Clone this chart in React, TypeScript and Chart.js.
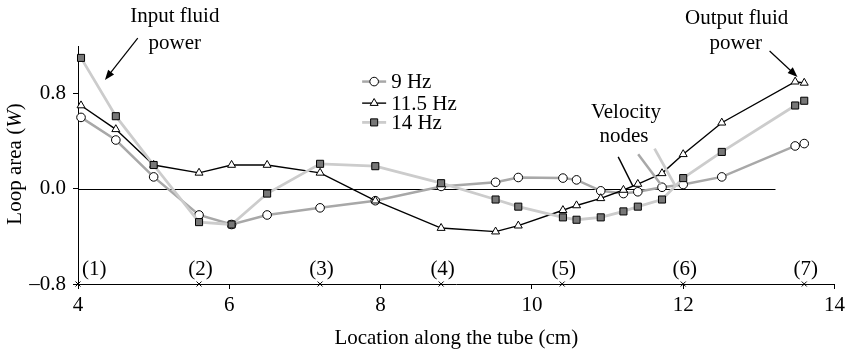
import React, { useEffect, useRef } from "react";
import { Chart, registerables } from "chart.js";

Chart.register(...registerables);

// ---- data ----
const locations = [4.04, 4.5, 5.0, 5.6, 6.03, 6.5, 7.2, 7.93, 8.8, 9.52, 9.82, 10.41, 10.59, 10.91, 11.21, 11.4, 11.72, 12.0, 12.51, 13.48, 13.6];
const loop9Hz = [0.6, 0.41, 0.1, -0.22, -0.3, -0.22, -0.16, -0.1, 0.02, 0.055, 0.095, 0.09, 0.075, -0.017, -0.04, -0.025, 0.013, 0.036, 0.1, 0.36, 0.38];
const loop11_5Hz = [0.7, 0.5, 0.2, 0.134, 0.2, 0.2, 0.134, -0.1, -0.33, -0.36, -0.31, -0.18, -0.14, -0.08, -0.01, 0.04, 0.13, 0.29, 0.555, 0.9, 0.89];
const loop14Hz = [1.1, 0.61, 0.2, -0.28, -0.3, -0.04, 0.21, 0.19, 0.047, -0.09, -0.15, -0.24, -0.26, -0.24, -0.19, -0.15, -0.09, 0.09, 0.31, 0.7, 0.74];
const seriesLabels = ["9 Hz", "11.5 Hz", "14 Hz"];
const xTickValues = [4, 6, 8, 10, 12, 14];
const yTickValues = [-0.8, 0, 0.8];
const stationPositions = [4, 5.6, 7.2, 8.8, 10.4, 12, 13.6];
const stationLabels = ["(1)", "(2)", "(3)", "(4)", "(5)", "(6)", "(7)"];
const xAxisTitle = "Location along the tube (cm)";
const yAxisTitleParts = ["Loop area (", "W", ")"];

const FONT = '"Liberation Serif", "Times New Roman", serif';
const FS = 21;

const seriesStyles = [
  { line: "#a8a8a8", width: 2.5, point: "circle", fill: "#ffffff", radius: 4.3 },
  { line: "#000000", width: 1.4, point: "triangle", fill: "#ffffff", radius: 4.6 },
  { line: "#cccccc", width: 2.8, point: "rect", fill: "#777777", radius: 5 },
];

function arrow(ctx: CanvasRenderingContext2D, x1: number, y1: number, x2: number, y2: number) {
  const ang = Math.atan2(y2 - y1, x2 - x1);
  const L = 10, W = 3.8;
  ctx.beginPath();
  ctx.moveTo(x1, y1);
  ctx.lineTo(x2 - (L - 2) * Math.cos(ang), y2 - (L - 2) * Math.sin(ang));
  ctx.stroke();
  ctx.beginPath();
  ctx.moveTo(x2, y2);
  ctx.lineTo(x2 - L * Math.cos(ang) + W * Math.sin(ang), y2 - L * Math.sin(ang) - W * Math.cos(ang));
  ctx.lineTo(x2 - L * Math.cos(ang) - W * Math.sin(ang), y2 - L * Math.sin(ang) + W * Math.cos(ang));
  ctx.closePath();
  ctx.fill();
}

function drawMarker(ctx: CanvasRenderingContext2D, kind: string, x: number, y: number, r: number, fill: string) {
  ctx.save();
  ctx.fillStyle = fill;
  ctx.strokeStyle = "#000";
  ctx.lineWidth = 1;
  ctx.beginPath();
  if (kind === "circle") {
    ctx.arc(x, y, r, 0, Math.PI * 2);
  } else if (kind === "triangle") {
    for (let i = 0; i < 3; i++) {
      const a = (i * 2 * Math.PI) / 3;
      const px = x + Math.sin(a) * r;
      const py = y - Math.cos(a) * r;
      if (i === 0) ctx.moveTo(px, py);
      else ctx.lineTo(px, py);
    }
    ctx.closePath();
  } else {
    const s = Math.SQRT1_2 * r;
    ctx.rect(x - s, y - s, 2 * s, 2 * s);
  }
  ctx.fill();
  ctx.stroke();
  ctx.restore();
}

const decorPlugin = {
  id: "decor",
  beforeDatasetsDraw(chart: any) {
    const ctx: CanvasRenderingContext2D = chart.ctx;
    const X = (v: number) => chart.scales.x.getPixelForValue(v);
    const Y = (v: number) => chart.scales.y.getPixelForValue(v);
    ctx.save();
    ctx.strokeStyle = "#000";
    ctx.lineWidth = 1;
    const y0 = Math.round(Y(0)) + 0.5;
    ctx.beginPath();
    ctx.moveTo(X(4), y0);
    ctx.lineTo(X(13.22), y0);
    ctx.stroke();
    ctx.restore();
  },
  afterDraw(chart: any) {
    const ctx: CanvasRenderingContext2D = chart.ctx;
    const X = (v: number) => chart.scales.x.getPixelForValue(v);
    const Y = (v: number) => chart.scales.y.getPixelForValue(v);
    const area = chart.chartArea;
    ctx.save();
    ctx.fillStyle = "#000";
    ctx.strokeStyle = "#000";
    ctx.font = `${FS}px ${FONT}`;

    // Velocity node pointer lines
    const pointers = [
      { c: "#000000", w: 1.4, a: [11.141, 0.268], b: [11.335, 0.022] },
      { c: "#a8a8a8", w: 2.5, a: [11.405, 0.29], b: [11.705, 0.036] },
      { c: "#cccccc", w: 2.8, a: [11.621, 0.338], b: [11.898, 0.022] },
    ];
    pointers.forEach((p) => {
      ctx.strokeStyle = p.c;
      ctx.lineWidth = p.w;
      ctx.beginPath();
      ctx.moveTo(X(p.a[0]), Y(p.a[1]));
      ctx.lineTo(X(p.b[0]), Y(p.b[1]));
      ctx.stroke();
    });

    ctx.strokeStyle = "#000";
    ctx.lineWidth = 1.2;
    // Input fluid power
    ctx.textAlign = "center";
    ctx.textBaseline = "middle";
    ctx.fillText("Input fluid", X(5.28), Y(1.451));
    ctx.fillText("power", X(5.28), Y(1.225));
    arrow(ctx, X(4.79), Y(1.267), X(4.356), Y(0.915));
    // Output fluid power
    ctx.fillText("Output fluid", X(12.707), Y(1.434));
    ctx.fillText("power", X(12.694), Y(1.225));
    arrow(ctx, X(13.142), Y(1.158), X(13.511), Y(0.94));
    // Velocity nodes
    ctx.fillText("Velocity", X(11.243), Y(0.639));
    ctx.fillText("nodes", X(11.216), Y(0.438));

    // Legend
    const legendRows = [0.901, 0.72, 0.558];
    const lx = X(7.756);
    seriesLabels.forEach((lab, i) => {
      const st = seriesStyles[i];
      const y = Y(legendRows[i]);
      ctx.strokeStyle = st.line;
      ctx.lineWidth = st.width;
      ctx.beginPath();
      ctx.moveTo(lx, y);
      ctx.lineTo(lx + 24, y);
      ctx.stroke();
      drawMarker(ctx, st.point, lx + 12, y, st.radius, st.fill);
      ctx.fillStyle = "#000";
      ctx.textAlign = "left";
      ctx.textBaseline = "middle";
      ctx.fillText(lab, lx + 29, y + 1);
    });

    // Station markers on x axis
    const ya = Y(-0.8);
    ctx.strokeStyle = "#000";
    ctx.lineWidth = 1;
    stationPositions.forEach((s, i) => {
      const x = X(s);
      ctx.beginPath();
      ctx.moveTo(x - 2.5, ya - 2.5);
      ctx.lineTo(x + 2.5, ya + 2.5);
      ctx.moveTo(x + 2.5, ya - 2.5);
      ctx.lineTo(x - 2.5, ya + 2.5);
      ctx.stroke();
      ctx.textBaseline = "alphabetic";
      if (i === 0) {
        ctx.textAlign = "left";
        ctx.fillText(stationLabels[i], x + 4, ya - 9);
      } else {
        ctx.textAlign = "center";
        ctx.fillText(stationLabels[i], x + 1.5, ya - 9);
      }
    });

    // X axis title
    ctx.textAlign = "center";
    ctx.textBaseline = "alphabetic";
    ctx.fillText(xAxisTitle, (area.left + area.right) / 2, area.bottom + 60);

    // Y axis title with italic W
    ctx.translate(20.5, (area.top + area.bottom) / 2 - 1);
    ctx.rotate(-Math.PI / 2);
    const fNormal = `${FS}px ${FONT}`;
    const fItalic = `italic ${FS}px ${FONT}`;
    ctx.font = fNormal;
    const w0 = ctx.measureText(yAxisTitleParts[0]).width;
    const w2 = ctx.measureText(yAxisTitleParts[2]).width;
    ctx.font = fItalic;
    const w1 = ctx.measureText(yAxisTitleParts[1]).width;
    let cx = -(w0 + w1 + w2) / 2;
    ctx.textAlign = "left";
    ctx.font = fNormal;
    ctx.fillText(yAxisTitleParts[0], cx, 0);
    cx += w0;
    ctx.font = fItalic;
    ctx.fillText(yAxisTitleParts[1], cx, 0);
    cx += w1;
    ctx.font = fNormal;
    ctx.fillText(yAxisTitleParts[2], cx, 0);
    ctx.restore();
  },
};

export default function App() {
  const ref = useRef<HTMLCanvasElement | null>(null);
  useEffect(() => {
    if (!ref.current) return;
    const seriesValues = [loop9Hz, loop11_5Hz, loop14Hz];
    const datasets = seriesValues.map((vals, i) => {
      const st = seriesStyles[i];
      return {
        label: seriesLabels[i],
        data: locations.map((x, j) => ({ x, y: vals[j] })),
        borderColor: st.line,
        borderWidth: st.width,
        pointStyle: st.point,
        pointRadius: st.radius,
        pointBackgroundColor: st.fill,
        pointBorderColor: "#000",
        pointBorderWidth: 1,
        tension: 0,
        clip: false as any,
        order: 3 - i,
      };
    });
    const chart = new Chart(ref.current, {
      type: "line",
      data: { datasets: datasets as any },
      options: {
        animation: false,
        responsive: false,
        devicePixelRatio: 1,
        layout: { padding: { top: 46, right: 13, left: 0, bottom: 0 } },
        plugins: { legend: { display: false }, tooltip: { enabled: false } },
        scales: {
          x: {
            type: "linear",
            min: 4,
            max: 14,
            afterBuildTicks: (s: any) => {
              s.ticks = xTickValues.map((v) => ({ value: v }));
            },
            afterFit: (s: any) => {
              s.height = 67;
            },
            ticks: {
              color: "#000",
              font: { family: FONT, size: FS },
              padding: 4,
              maxRotation: 0,
              callback: (v: any) => String(v),
            },
            grid: { display: true, drawOnChartArea: false, drawTicks: true, tickLength: 5, color: "#000", tickColor: "#000" },
            border: { display: true, color: "#000", width: 1 },
          },
          y: {
            type: "linear",
            min: -0.8,
            max: 1.2,
            afterBuildTicks: (s: any) => {
              s.ticks = yTickValues.map((v) => ({ value: v }));
            },
            afterFit: (s: any) => {
              s.width = 78;
            },
            ticks: {
              color: "#000",
              font: { family: FONT, size: FS },
              padding: 7,
              callback: (v: any) => (Number(v) < 0 ? "\u2013" + Math.abs(Number(v)).toFixed(1) : Number(v).toFixed(1)),
            },
            grid: { display: true, drawOnChartArea: false, drawTicks: true, tickLength: 5, color: "#000", tickColor: "#000" },
            border: { display: true, color: "#000", width: 1 },
          },
        },
      },
      plugins: [decorPlugin],
    });
    return () => chart.destroy();
  }, []);
  return (
    <div style={{ position: "absolute", left: 0, top: 0, width: 849, height: 351, background: "#fff" }}>
      <canvas ref={ref} width={849} height={351} style={{ display: "block", width: 849, height: 351 }} />
    </div>
  );
}
